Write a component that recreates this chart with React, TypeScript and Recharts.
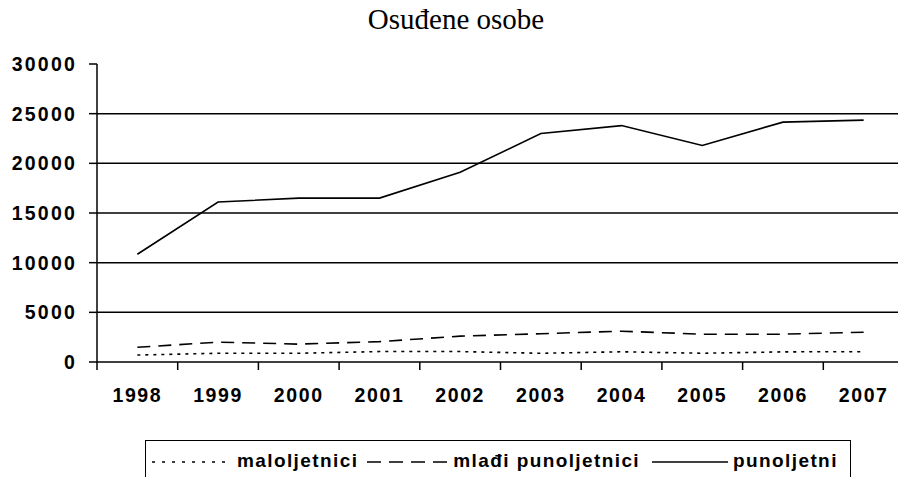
import { LineChart, Line, XAxis, YAxis, CartesianGrid } from "recharts";

const years = ["1998", "1999", "2000", "2001", "2002", "2003", "2004", "2005", "2006", "2007"];
const maloljetnici = [700, 880, 880, 1050, 1050, 880, 1030, 880, 1020, 1040];
const mladiPunoljetnici = [1480, 2000, 1800, 2050, 2600, 2850, 3100, 2800, 2800, 3000];
const punoljetni = [10850, 16100, 16500, 16500, 19100, 23000, 23800, 21800, 24150, 24350];
const yTicks = [0, 5000, 10000, 15000, 20000, 25000, 30000];
const gridValues = [5000, 10000, 15000, 20000, 25000];

const seriesNames = ["maloljetnici", "mlađi punoljetnici", "punoljetni"];

const data = years.map((year, i) => ({
  year,
  maloljetnici: maloljetnici[i],
  mladi: mladiPunoljetnici[i],
  punoljetni: punoljetni[i],
}));

const AXIS_W = 97;
const PLOT_W = 807;
const BW = PLOT_W / years.length;
const SANS = "'Liberation Sans', Arial, sans-serif";

function YearTick(props: any) {
  const { x, y, payload } = props;
  return (
    <g>
      <line x1={x - BW / 2} y1={y} x2={x - BW / 2} y2={y + 8} stroke="#000" strokeWidth={1.5} />
      <text
        x={x}
        y={y + 40}
        textAnchor="middle"
        fontSize={19.5}
        fontWeight={700}
        fontFamily={SANS}
        letterSpacing={1.6}
        fill="#000"
      >
        {payload.value}
      </text>
    </g>
  );
}

const legendStyles = [
  { dash: "3 7", w: 73, gapAfter: 12 },
  { dash: "14 8", w: 80, gapAfter: 6 },
  { dash: undefined, w: 76, gapAfter: 5 },
];
const textGaps = [9, 12, 0];

export default function App() {
  return (
    <div
      style={{
        position: "fixed",
        left: 0,
        top: 0,
        width: 898,
        height: 477,
        overflow: "hidden",
        background: "#fff",
      }}
    >
      <div
        style={{
          position: "absolute",
          left: 0,
          top: 5,
          width: 912,
          textAlign: "center",
          fontFamily: "'Liberation Serif', 'Times New Roman', serif",
          fontSize: 29,
          lineHeight: "29px",
          color: "#000",
        }}
      >
        Osuđene osobe
      </div>

      <LineChart
        width={AXIS_W + PLOT_W}
        height={477}
        data={data}
        margin={{ top: 64, right: 0, bottom: 65, left: 0 }}
      >
        <CartesianGrid
          vertical={false}
          horizontalValues={gridValues}
          stroke="#000"
          strokeWidth={1.5}
        />
        <XAxis
          dataKey="year"
          height={50}
          padding={{ left: BW / 2, right: BW / 2 }}
          axisLine={{ stroke: "#000", strokeWidth: 1.5 }}
          tickLine={false}
          tickSize={0}
          tickMargin={0}
          tick={<YearTick />}
          interval={0}
        />
        <YAxis
          width={AXIS_W}
          domain={[0, 30000]}
          ticks={yTicks}
          interval={0}
          axisLine={{ stroke: "#000", strokeWidth: 1.5 }}
          tickLine={{ stroke: "#000", strokeWidth: 1.5 }}
          tickSize={8}
          tickMargin={12}
          tick={{
            fontSize: 19.5,
            fontWeight: 700,
            fill: "#000",
            fontFamily: SANS,
            letterSpacing: 2.2,
          }}
        />
        <Line
          dataKey="maloljetnici"
          stroke="#000"
          strokeWidth={1.6}
          strokeDasharray="3 5"
          dot={false}
          isAnimationActive={false}
        />
        <Line
          dataKey="mladi"
          stroke="#000"
          strokeWidth={1.6}
          strokeDasharray="13 8"
          dot={false}
          isAnimationActive={false}
        />
        <Line
          dataKey="punoljetni"
          stroke="#000"
          strokeWidth={1.6}
          dot={false}
          isAnimationActive={false}
        />
      </LineChart>

      <div
        style={{
          position: "absolute",
          left: 145,
          top: 440,
          width: 706,
          height: 60,
          border: "1.5px solid #000",
          boxSizing: "border-box",
          display: "flex",
          alignItems: "flex-start",
          paddingLeft: 6,
          paddingTop: 9,
          fontFamily: SANS,
          fontWeight: 700,
          fontSize: 19,
          letterSpacing: 1.4,
          lineHeight: "22px",
          color: "#000",
        }}
      >
        {seriesNames.map((name, i) => (
          <div key={name} style={{ display: "flex", alignItems: "center" }}>
            <svg width={legendStyles[i].w} height={22} style={{ marginRight: legendStyles[i].gapAfter }}>
              <line
                x1={0}
                y1={12}
                x2={legendStyles[i].w}
                y2={12}
                stroke="#000"
                strokeWidth={1.6}
                strokeDasharray={legendStyles[i].dash}
              />
            </svg>
            <span style={{ marginRight: textGaps[i] }}>{name}</span>
          </div>
        ))}
      </div>
    </div>
  );
}
